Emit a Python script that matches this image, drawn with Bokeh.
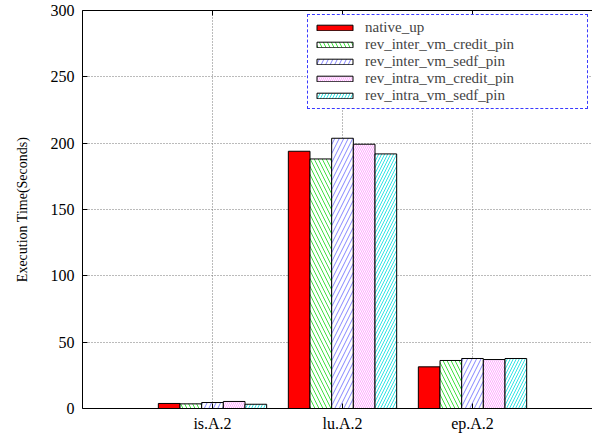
from bokeh.plotting import figure
from bokeh.models import FixedTicker, LinearAxis, Range1d, Legend, LegendItem, ColumnDataSource
from bokeh.embed import file_html
from bokeh.resources import INLINE

categories = ["is.A.2", "lu.A.2", "ep.A.2"]
native_up = [3.8, 193.9, 31.4]
rev_inter_vm_credit_pin = [3.5, 188.1, 36.2]
rev_inter_vm_sedf_pin = [4.5, 203.7, 37.7]
rev_intra_vm_credit_pin = [5.3, 199.2, 36.9]
rev_intra_vm_sedf_pin = [3.2, 191.9, 37.7]
y_ticks = [0, 50, 100, 150, 200, 250, 300]

series = [
    ("native_up", native_up, dict(fill_color="#ff0000")),
    ("rev_inter_vm_credit_pin", rev_inter_vm_credit_pin,
     dict(fill_color="white", hatch_pattern="left_diagonal_line", hatch_color="#22dd22",
          hatch_scale=8, hatch_weight=1.0, hatch_alpha=0.85)),
    ("rev_inter_vm_sedf_pin", rev_inter_vm_sedf_pin,
     dict(fill_color="white", hatch_pattern="right_diagonal_line", hatch_color="#3333ff",
          hatch_scale=9, hatch_weight=1.0, hatch_alpha=0.6)),
    ("rev_intra_vm_credit_pin", rev_intra_vm_credit_pin,
     dict(fill_color="white", hatch_pattern="left_diagonal_line", hatch_color="#ff44ff",
          hatch_scale=4, hatch_weight=1, hatch_alpha=0.45)),
    ("rev_intra_vm_sedf_pin", rev_intra_vm_sedf_pin,
     dict(fill_color="white", hatch_pattern="right_diagonal_line", hatch_color="#00dddd",
          hatch_scale=6, hatch_weight=1.0, hatch_alpha=0.8)),
]

FONT = "Liberation Serif"

p = figure(frame_width=510, frame_height=398, output_backend="svg", toolbar_location=None,
           x_range=Range1d(-1, 2.923), y_range=Range1d(0, 300),
           min_border_left=82, min_border_right=0, min_border_top=10, min_border_bottom=24)
p.outline_line_color = None
p.background_fill_color = "white"

n = len(series)
bw = 1.0 / (n + 1)
items = []
for i, (name, vals, style) in enumerate(series):
    xs = [k + (i - (n - 1) / 2) * bw for k in range(len(categories))]
    src = ColumnDataSource(dict(x=xs, top=vals))
    r = p.vbar(x="x", top="top", width=bw, bottom=0, source=src,
               line_color="black", line_width=1, **style)
    items.append(LegendItem(label=name, renderers=[r]))

# axes
p.xaxis.ticker = FixedTicker(ticks=list(range(len(categories))))
p.xaxis.major_label_overrides = {i: c for i, c in enumerate(categories)}
p.yaxis.ticker = FixedTicker(ticks=y_ticks)
for ax in [p.xaxis[0], p.yaxis[0]]:
    ax.major_tick_in = 5
    ax.major_tick_out = 0
    ax.minor_tick_line_color = None
    ax.axis_line_color = "black"
    ax.major_tick_line_color = "black"
    ax.major_label_text_font = FONT
    ax.major_label_text_font_size = "16px"
    ax.major_label_text_color = "black"
p.xaxis.major_label_standoff = 6
p.yaxis.major_label_standoff = 8
p.yaxis.axis_label = "Execution Time(Seconds)"
p.yaxis.axis_label_text_font = FONT
p.yaxis.axis_label_text_font_size = "14px"
p.yaxis.axis_label_text_font_style = "normal"
p.yaxis.axis_label_text_color = "black"
p.yaxis.axis_label_standoff = 18

top_ax = LinearAxis(ticker=FixedTicker(ticks=list(range(len(categories)))),
                    major_tick_in=5, major_tick_out=0, minor_tick_line_color=None,
                    major_label_overrides={i: "" for i in range(len(categories))},
                    major_label_text_font_size="1px", major_label_standoff=0,
                    axis_line_color="black")
p.add_layout(top_ax, "above")

# grid
p.xgrid.ticker = FixedTicker(ticks=list(range(len(categories))))
p.ygrid.ticker = FixedTicker(ticks=y_ticks[1:-1])
for g in [p.xgrid[0], p.ygrid[0]]:
    g.grid_line_color = "#777777"
    g.grid_line_dash = "1 2"
    g.grid_line_width = 1

legend = Legend(items=items, location=(225, 299), orientation="vertical",
                label_text_font=FONT, label_text_font_size="15px",
                glyph_width=45, glyph_height=7, label_height=15, label_width=218,
                label_standoff=8, spacing=0, padding=4, margin=0,
                border_line_color="#3a3aff", border_line_alpha=1.0,
                border_line_dash="2 2", border_line_width=1.2,
                background_fill_color="white", background_fill_alpha=1.0)
p.add_layout(legend, "center")

open("out.html", "w").write(file_html(p, INLINE))
